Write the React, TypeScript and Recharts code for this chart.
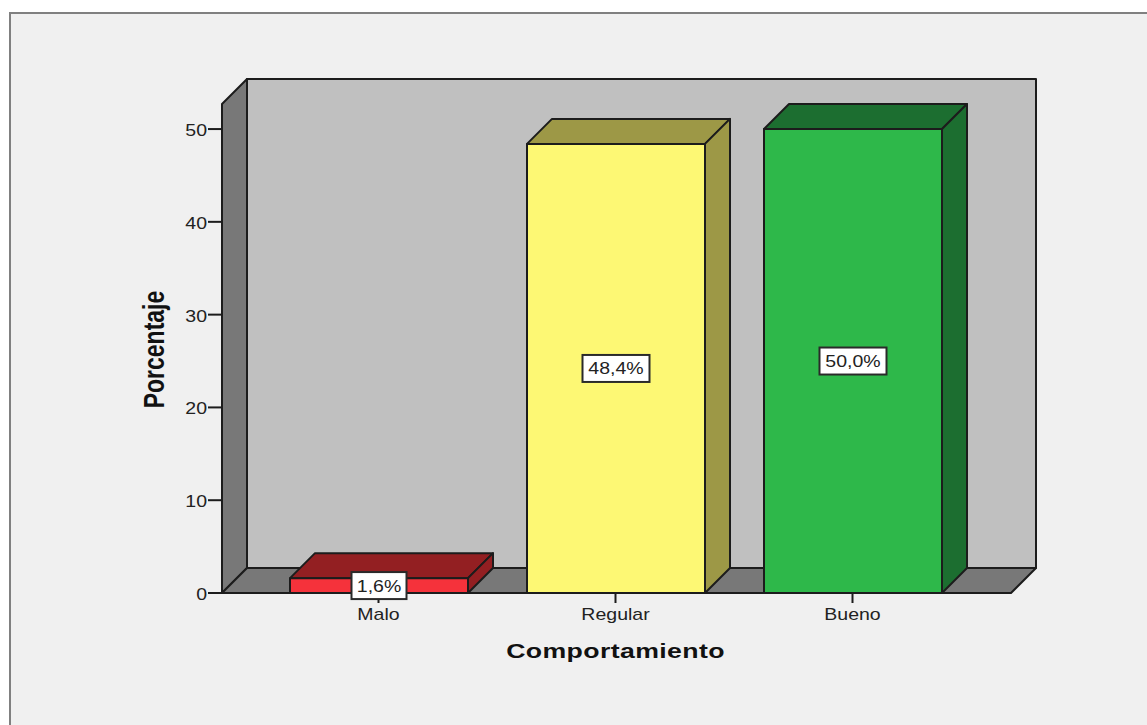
// Porcentaje por comportamiento: barras con aspecto 3D, pared gris y etiquetas en caja blanca.
import { BarChart, Bar, XAxis, YAxis, LabelList, ReferenceArea } from "recharts";

const CATEGORIES = ["Malo", "Regular", "Bueno"];
const PERCENTAGES = [1.6, 48.4, 50.0];
const Y_TICKS = [0, 10, 20, 30, 40, 50];
const Y_MAX = 52.7;

const FRONT_COLORS = ["#f5323b", "#fdf874", "#2eb84a"];
const SIDE_COLORS = ["#931f22", "#9d9846", "#1c6e30"];

const DEPTH = 25;
const PAD_LEFT = 38;
const PAD_RIGHT = 40;
const EDGE = "#1c1c1c";
const FONT = "'Liberation Sans', Arial, sans-serif";
const STRETCH = 1.22; // el texto del gráfico va algo ensanchado

const rows = CATEGORIES.map((name, i) => ({ name, value: PERCENTAGES[i] }));

const fmtPct = (v: number) => `${v.toFixed(1).replace(".", ",")}%`;

// Pared del fondo, pared izquierda y suelo
function Backdrop({ x, y, width, height }: any) {
  const l = x - PAD_LEFT;
  const r = x + width + PAD_RIGHT;
  const b = y + height;
  return (
    <g stroke={EDGE} strokeWidth={2} strokeLinejoin="round">
      <path
        d={`M${l + DEPTH} ${y - DEPTH}H${r + DEPTH}V${b - DEPTH}H${l + DEPTH}Z`}
        fill="#c0c0c0"
      />
      <path
        d={`M${l} ${y}L${l + DEPTH} ${y - DEPTH}V${b - DEPTH}L${l} ${b}Z`}
        fill="#787878"
      />
      <path
        d={`M${l} ${b}L${l + DEPTH} ${b - DEPTH}H${r + DEPTH}L${r} ${b}Z`}
        fill="#787878"
      />
    </g>
  );
}

function Bar3D({ x, y, width, height, index }: any) {
  const r = x + width;
  const b = y + height;
  return (
    <g stroke={EDGE} strokeWidth={2} strokeLinejoin="round">
      <path
        d={`M${x} ${y}L${x + DEPTH} ${y - DEPTH}H${r + DEPTH}L${r} ${y}Z`}
        fill={SIDE_COLORS[index]}
      />
      <path
        d={`M${r} ${y}L${r + DEPTH} ${y - DEPTH}V${b - DEPTH}L${r} ${b}Z`}
        fill={SIDE_COLORS[index]}
      />
      <rect x={x} y={y} width={width} height={height} fill={FRONT_COLORS[index]} />
    </g>
  );
}

function ValueBox({ x, y, width, height, value }: any) {
  const text = fmtPct(Number(value));
  const boxW = text.length * 12 + 7;
  const cx = x + width / 2;
  const cy = y + height / 2;
  return (
    <g>
      <rect
        x={cx - boxW / 2}
        y={cy - 13.5}
        width={boxW}
        height={27}
        fill="#ffffff"
        stroke="#2a2a2a"
        strokeWidth={2}
      />
      <text
        transform={`translate(${cx} ${cy + 6}) scale(${STRETCH} 1)`}
        textAnchor="middle"
        fontSize={16}
        fontFamily={FONT}
        fill="#222222"
      >
        {text}
      </text>
    </g>
  );
}

function XTick({ x, y, payload }: any) {
  return (
    <text
      transform={`translate(${x} ${y + 15}) scale(${STRETCH} 1)`}
      textAnchor="middle"
      fontSize={16}
      fontFamily={FONT}
      fill="#222222"
    >
      {payload.value}
    </text>
  );
}

function YTick({ x, y, payload }: any) {
  return (
    <text
      transform={`translate(${x + 1} ${y + 7}) scale(${STRETCH} 1)`}
      textAnchor="end"
      fontSize={16}
      fontFamily={FONT}
      fill="#222222"
    >
      {payload.value}
    </text>
  );
}

function XTitle({ viewBox, value }: any) {
  const cx = viewBox.x + viewBox.width / 2;
  return (
    <text
      transform={`translate(${cx - 1} 658) scale(1.27 1)`}
      textAnchor="middle"
      fontSize={21}
      fontWeight={700}
      letterSpacing={0.3}
      fontFamily={FONT}
      fill="#111111"
    >
      {value}
    </text>
  );
}

function YTitle({ viewBox, value }: any) {
  const cy = viewBox.y + viewBox.height / 2;
  return (
    <text
      transform={`translate(164 ${cy + 1}) rotate(-90) scale(1 1.27)`}
      textAnchor="middle"
      fontSize={23}
      fontWeight={700}
      fontFamily={FONT}
      fill="#111111"
    >
      {value}
    </text>
  );
}

export default function App() {
  return (
    <div
      style={{
        position: "absolute",
        left: 0,
        top: 0,
        width: 1147,
        height: 725,
        background: "#ffffff",
        overflow: "hidden",
      }}
    >
      <div
        style={{
          position: "absolute",
          left: 9,
          top: 12,
          width: 1136,
          height: 711,
          background: "#f0f0f0",
          borderTop: "2px solid #808080",
          borderLeft: "2px solid #808080",
        }}
      />
      <div style={{ position: "absolute", left: 0, top: 0 }}>
        <BarChart
          width={1147}
          height={725}
          data={rows}
          margin={{ top: 104, right: 136, bottom: 0, left: 0 }}
          barSize={178}
        >
          <ReferenceArea
            y1={0}
            y2={Y_MAX}
            ifOverflow="visible"
            shape={Backdrop}
          />
          <XAxis
            dataKey="name"
            padding={{ left: PAD_LEFT, right: PAD_RIGHT }}
            axisLine={false}
            tickSize={10}
            tickLine={{ stroke: EDGE, strokeWidth: 2 }}
            tick={XTick}
            height={132}
            label={{ value: "Comportamiento", content: XTitle }}
          />
          <YAxis
            domain={[0, Y_MAX]}
            ticks={Y_TICKS}
            width={222}
            axisLine={false}
            tickSize={14}
            tickLine={{ stroke: EDGE, strokeWidth: 2 }}
            tick={YTick}
            label={{ value: "Porcentaje", content: YTitle }}
          />
          <Bar dataKey="value" shape={Bar3D} isAnimationActive={false}>
            <LabelList dataKey="value" content={ValueBox} />
          </Bar>
        </BarChart>
      </div>
    </div>
  );
}
